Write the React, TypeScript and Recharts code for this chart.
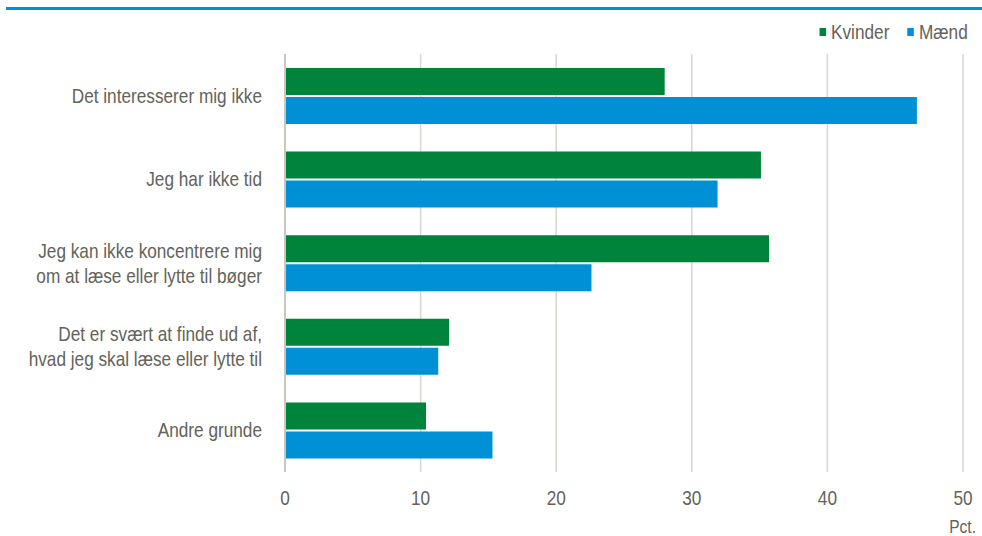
import React from 'react';
import { BarChart, Bar, XAxis, YAxis, CartesianGrid, Legend } from 'recharts';

const categories = [
  'Det interesserer mig ikke',
  'Jeg har ikke tid',
  'Jeg kan ikke koncentrere mig\nom at læse eller lytte til bøger',
  'Det er svært at finde ud af,\nhvad jeg skal læse eller lytte til',
  'Andre grunde',
];
const kvinder = [28.0, 35.1, 35.7, 12.1, 10.4];
const maend = [46.6, 31.9, 22.6, 11.3, 15.3];
const xTicks = [0, 10, 20, 30, 40, 50];

const GREEN = '#00843b';
const BLUE = '#0090d6';
const TEXT = '#63635a';
const GRID = '#d6d6cf';
const FONT = '"Liberation Sans", Arial, sans-serif';
const NARROW = 0.82; // no Arial Narrow available, squeeze Liberation Sans

const data = categories.map((c, i) => ({ name: c, kvinder: kvinder[i], maend: maend[i] }));

const NarrowText = ({ x, y, anchor, size, children }: any) => (
  <text
    transform={`translate(${x},${y}) scale(${NARROW},1)`}
    x={0}
    y={0}
    textAnchor={anchor}
    fill={TEXT}
    fontSize={size}
    fontFamily={FONT}
  >
    {children}
  </text>
);

const YTick = ({ x, y, payload }: any) => {
  const lines = String(payload.value).split('\n');
  const lh = 25;
  const start = -((lines.length - 1) * lh) / 2 + 7;
  return (
    <g>
      {lines.map((l, i) => (
        <NarrowText key={i} x={x - 21} y={y + start + i * lh} anchor="end" size={21}>
          {l}
        </NarrowText>
      ))}
    </g>
  );
};

const XTick = ({ x, y, payload }: any) => (
  <NarrowText x={x} y={y + 31} anchor="middle" size={21}>
    {payload.value}
  </NarrowText>
);

const LegendContent = () => (
  <div
    style={{
      display: 'flex',
      alignItems: 'center',
      fontFamily: FONT,
      fontSize: 21,
      color: TEXT,
      transform: `scaleX(${NARROW})`,
      transformOrigin: 'right center',
      whiteSpace: 'nowrap',
    }}
  >
    <span style={{ width: 8, height: 8, background: GREEN, display: 'inline-block', marginRight: 6 }} />
    <span style={{ marginRight: 22 }}>Kvinder</span>
    <span style={{ width: 8, height: 8, background: BLUE, display: 'inline-block', marginRight: 6 }} />
    <span>Mænd</span>
  </div>
);

export default function App() {
  return (
    <div style={{ position: 'absolute', left: 0, top: 0, width: 982, height: 536, background: '#fff' }}>
      <div style={{ position: 'absolute', left: 6, top: 7, width: 976, height: 3, background: BLUE }} />
      <BarChart
        width={982}
        height={536}
        data={data}
        layout="vertical"
        margin={{ top: 30, right: 19, bottom: 0, left: 0 }}
        barSize={27}
        barGap={2}
      >
        <CartesianGrid horizontal={false} stroke={GRID} strokeWidth={1.5} />
        <XAxis
          type="number"
          domain={[0, 50]}
          ticks={xTicks}
          axisLine={false}
          tickLine={false}
          tickSize={0}
          height={64}
          tick={<XTick />}
          label={{
            content: ({ viewBox }: any) => (
              <NarrowText x={viewBox.x + viewBox.width + 13} y={viewBox.y + 61} anchor="end" size={19}>
                Pct.
              </NarrowText>
            ),
          }}
        />
        <YAxis
          type="category"
          dataKey="name"
          width={285}
          axisLine={{ stroke: '#c8c8c0', strokeWidth: 2 }}
          tickLine={false}
          tickSize={0}
          tick={<YTick />}
          interval={0}
        />
        <Legend
          verticalAlign="top"
          align="right"
          content={<LegendContent />}
          wrapperStyle={{ top: 20, right: 14, width: 'auto' }}
        />
        <Bar dataKey="kvinder" name="Kvinder" fill={GREEN} isAnimationActive={false} />
        <Bar dataKey="maend" name="Mænd" fill={BLUE} isAnimationActive={false} />
      </BarChart>
    </div>
  );
}
